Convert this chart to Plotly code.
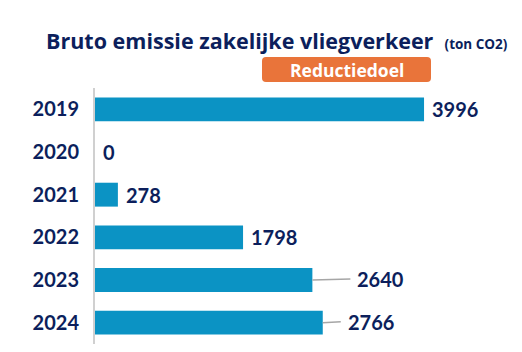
import plotly.graph_objects as go

years = ["2019", "2020", "2021", "2022", "2023", "2024"]
values = [3996, 0, 278, 1798, 2640, 2766]
label_texts = ["3996", "0", "278", "1798", "2640", "2766"]
leader_offsets = [0, 0, 0, 0, 38, 18]

NAVY = "#0c1f5c"
BLUE = "#0b93c4"
ORANGE = "#e9743a"
FONT = "Lato"
TFONT = "Open Sans"

W, H = 522, 352
L, R, T, B = 95, 12, 88, 8
pw, ph = W - L - R, H - T - B

fig = go.Figure(go.Bar(
    x=values, y=years, orientation="h",
    marker=dict(color=BLUE, line=dict(width=0)),
    hoverinfo="skip",
))

ann = []
for i, (v, t, off) in enumerate(zip(values, label_texts, leader_offsets)):
    f = dict(family=FONT, size=20, color=NAVY, weight="bold")
    if off:
        ann.append(dict(x=v, y=i, xref="x", yref="y", text=t, showarrow=True,
                        arrowhead=0, arrowwidth=1.5, arrowcolor="#a6a6a6",
                        ax=off, ay=-1, xanchor="left", borderpad=6, font=f))
    else:
        ann.append(dict(x=v, y=i, xref="x", yref="y", text=t, showarrow=False,
                        xanchor="left", xshift=6, font=f))

def px(xp):
    return (xp - L) / pw

def py(yp):
    return (H - B - yp) / ph

# rounded orange badge
x0, x1, y0, y1, r = px(262), px(431), py(82), py(57), 4
rx, ry = r / pw, r / ph
badge_path = (
    f"M {x0+rx},{y0} L {x1-rx},{y0} Q {x1},{y0} {x1},{y0+ry} "
    f"L {x1},{y1-ry} Q {x1},{y1} {x1-rx},{y1} "
    f"L {x0+rx},{y1} Q {x0},{y1} {x0},{y1-ry} "
    f"L {x0},{y0+ry} Q {x0},{y0} {x0+rx},{y0} Z"
)
shapes = [dict(type="path", xref="paper", yref="paper", path=badge_path,
               fillcolor=ORANGE, line=dict(width=0), layer="above")]

ann.append(dict(x=px(346.5), y=py(69.5), xref="paper", yref="paper",
                text="Reductiedoel", showarrow=False, xanchor="center", yanchor="middle",
                font=dict(family=TFONT, size=17.5, color="white", weight="bold")))

fig.update_layout(
    width=W, height=H,
    margin=dict(l=L, r=R, t=T, b=B),
    paper_bgcolor="white", plot_bgcolor="white",
    bargap=0.44,
    showlegend=False,
    title=dict(
        text="Bruto emissie zakelijke vliegverkeer  <span style='font-size:13.5px'>(ton CO2)</span>",
        xref="container", yref="container", x=46 / W, xanchor="left",
        y=1 - 41 / H, yanchor="middle",
        font=dict(family=TFONT, size=21.5, color=NAVY, weight="bold"),
    ),
    xaxis=dict(range=[0, 5040], visible=False),
    yaxis=dict(
        type="category",
        range=[len(years) - 0.5, -0.5],
        showline=True, linecolor="#d0d0d0", linewidth=2,
        showgrid=False, zeroline=False, ticks="",
        ticklabelstandoff=10,
        tickfont=dict(family=FONT, size=20, color=NAVY, weight="bold"),
    ),
    shapes=shapes,
    annotations=ann,
)

fig.write_html("out.html")
